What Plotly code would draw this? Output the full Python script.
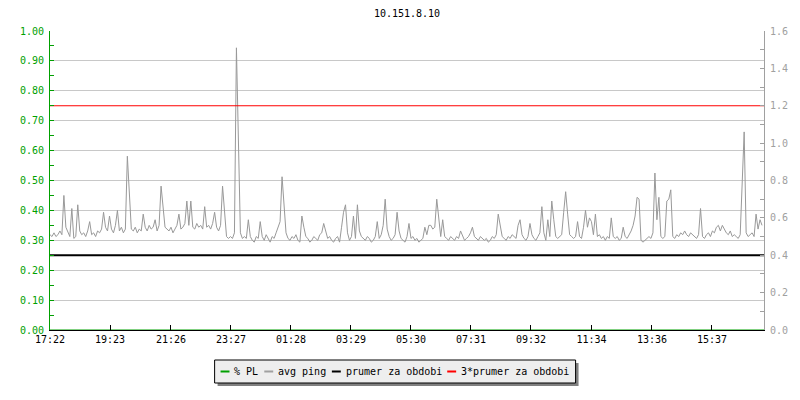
import datetime as dt
import plotly.graph_objects as go

# ---------------- data ----------------
title_text = "10.151.8.10"
start_time = "2024-05-13 17:22"
step_minutes = 4
span_minutes = 1440

# avg ping (right axis), one value every 4 minutes from 17:22
avg_ping = [
    0.51, 0.50, 0.52, 0.50, 0.51, 0.53, 0.51, 0.72, 0.55, 0.52,
    0.50, 0.65, 0.49, 0.50, 0.67, 0.53, 0.51, 0.52, 0.50, 0.53,
    0.58, 0.51, 0.52, 0.50, 0.53, 0.52, 0.54, 0.63, 0.55, 0.53,
    0.61, 0.54, 0.52, 0.56, 0.64, 0.53, 0.55, 0.52, 0.54, 0.93,
    0.72, 0.54, 0.53, 0.55, 0.52, 0.54, 0.53, 0.62, 0.55, 0.53,
    0.56, 0.54, 0.55, 0.59, 0.53, 0.56, 0.77, 0.66, 0.55, 0.54,
    0.53, 0.55, 0.52, 0.54, 0.56, 0.62, 0.54, 0.55, 0.57, 0.69,
    0.56, 0.69, 0.55, 0.54, 0.57, 0.55, 0.56, 0.54, 0.66, 0.55,
    0.56, 0.54, 0.57, 0.63, 0.55, 0.53, 0.56, 0.77, 0.63, 0.50,
    0.49, 0.50, 0.49, 0.52, 1.51, 0.93, 0.52, 0.49, 0.50, 0.49,
    0.59, 0.50, 0.48, 0.47, 0.50, 0.49, 0.58, 0.50, 0.48, 0.51,
    0.49, 0.47, 0.50, 0.49, 0.52, 0.55, 0.58, 0.82, 0.64, 0.52,
    0.49, 0.48, 0.50, 0.49, 0.51, 0.48, 0.47, 0.61, 0.55, 0.50,
    0.49, 0.47, 0.48, 0.50, 0.49, 0.48, 0.51, 0.52, 0.57, 0.53,
    0.49, 0.50, 0.48, 0.47, 0.49, 0.50, 0.47, 0.55, 0.63, 0.67,
    0.52, 0.48, 0.50, 0.61, 0.49, 0.67, 0.53, 0.50, 0.49, 0.48,
    0.50, 0.49, 0.47, 0.48, 0.50, 0.58, 0.49, 0.51, 0.56, 0.70,
    0.54, 0.50, 0.48, 0.49, 0.51, 0.63, 0.53, 0.49, 0.48, 0.47,
    0.50, 0.57, 0.49, 0.50, 0.48, 0.49, 0.47, 0.48, 0.49, 0.55,
    0.51, 0.56, 0.56, 0.54, 0.55, 0.70, 0.59, 0.50, 0.59, 0.50,
    0.49, 0.48, 0.50, 0.49, 0.48, 0.50, 0.49, 0.53, 0.50, 0.48,
    0.49, 0.50, 0.52, 0.55, 0.50, 0.49, 0.48, 0.50, 0.49, 0.48,
    0.49, 0.47, 0.48, 0.50, 0.49, 0.51, 0.62, 0.55, 0.50, 0.49,
    0.48, 0.50, 0.49, 0.51, 0.50, 0.49, 0.56, 0.59, 0.51, 0.49,
    0.48, 0.50, 0.57, 0.51, 0.49, 0.48, 0.50, 0.52, 0.66, 0.52,
    0.48, 0.59, 0.50, 0.69, 0.59, 0.50, 0.49, 0.50, 0.51, 0.63,
    0.74, 0.62, 0.51, 0.50, 0.49, 0.50, 0.58, 0.50, 0.49, 0.55,
    0.64, 0.55, 0.60, 0.58, 0.51, 0.62, 0.50, 0.51, 0.49, 0.50,
    0.48, 0.50, 0.49, 0.60, 0.50, 0.49, 0.50, 0.48, 0.49, 0.55,
    0.50, 0.49, 0.51, 0.53, 0.56, 0.61, 0.71, 0.70, 0.48, 0.47,
    0.48, 0.49, 0.50, 0.49, 0.52, 0.84, 0.59, 0.71, 0.50, 0.49,
    0.50, 0.69, 0.70, 0.75, 0.50, 0.49, 0.51, 0.50, 0.52, 0.51,
    0.53, 0.51, 0.50, 0.52, 0.51, 0.50, 0.49, 0.51, 0.65, 0.50,
    0.49, 0.51, 0.52, 0.50, 0.53, 0.52, 0.55, 0.56, 0.53, 0.56,
    0.54, 0.52, 0.51, 0.53, 0.50, 0.51, 0.50, 0.49, 0.51, 0.77,
    1.06, 0.52, 0.50, 0.51, 0.52, 0.50, 0.62, 0.54, 0.59, 0.56,
]
# % packet loss (left axis): no loss during the period
pl_times = [start_time, "2024-05-14 17:22"]
pl_percent = [0.0, 0.0]

prumer = 0.40          # period average (right axis)
prumer3 = 1.20         # 3 * period average (right axis)

tick_labels = ["17:22", "19:23", "21:26", "23:27", "01:28", "03:29",
               "05:30", "07:31", "09:32", "11:34", "13:36", "15:37"]
legend_labels = ["% PL", "avg ping", "prumer za obdobi", "3*prumer za obdobi"]
legend_colors = ["#00a000", "#a0a0a0", "#000000", "#ff0000"]

# ---------------- styling ----------------
FONT = "DejaVu Sans Mono"
GREEN = "#00a000"
GREY = "#a0a0a0"
GRID = "#c8c8c8"
W, H = 800, 400
ML, MR, MT, MB = 50, 30, 31, 70

t0 = dt.datetime.strptime(start_time, "%Y-%m-%d %H:%M")
t_end = t0 + dt.timedelta(minutes=span_minutes)
times = [t0 + dt.timedelta(minutes=step_minutes * i) for i in range(len(avg_ping))]

tick_vals = []
for lab in tick_labels:
    hh, mm = map(int, lab.split(":"))
    t = t0.replace(hour=hh, minute=mm)
    if t < t0:
        t += dt.timedelta(days=1)
    tick_vals.append(t)

fig = go.Figure()
fig.add_trace(go.Scatter(x=pl_times, y=pl_percent, mode="lines", yaxis="y",
                         line=dict(color=GREEN, width=1),
                         name=legend_labels[0], showlegend=False, hoverinfo="skip"))
fig.add_trace(go.Scatter(x=times, y=avg_ping, mode="lines", yaxis="y2",
                         line=dict(color="#999999", width=1),
                         name=legend_labels[1], showlegend=False,
                         hoverinfo="skip"))
fig.add_trace(go.Scatter(x=[t0, t_end], y=[prumer, prumer], mode="lines", yaxis="y2",
                         line=dict(color="#000000", width=2),
                         name=legend_labels[2], showlegend=False, hoverinfo="skip"))
fig.add_trace(go.Scatter(x=[t0, t_end], y=[prumer3, prumer3], mode="lines", yaxis="y2",
                         line=dict(color="#ff0000", width=1),
                         name=legend_labels[3], showlegend=False, hoverinfo="skip"))

# ---------------- custom legend (paper coords from pixels) ----------------
pw, ph = W - ML - MR, H - MT - MB
def px(x):
    return (x - ML) / pw
def py(y):
    return (H - MB - y) / ph

box_l, box_r, box_t, box_b = 216, 580, 360, 383
shapes = [
    dict(type="rect", xref="paper", yref="paper", x0=px(box_l + 3), x1=px(box_r + 3),
         y0=py(box_b + 3), y1=py(box_t + 3), fillcolor="#808080", line=dict(width=0),
         layer="above"),
    dict(type="rect", xref="paper", yref="paper", x0=px(box_l), x1=px(box_r),
         y0=py(box_b), y1=py(box_t), fillcolor="#eeeeee",
         line=dict(color="#000000", width=1), layer="above"),
]
annotations = []
cx = 222
ly = 371.5
for lab, col in zip(legend_labels, legend_colors):
    shapes.append(dict(type="line", xref="paper", yref="paper", x0=px(cx), x1=px(cx + 9),
                       y0=py(ly), y1=py(ly), line=dict(color=col, width=2), layer="above"))
    tx = cx + 13
    annotations.append(dict(xref="paper", yref="paper", x=px(tx), y=py(ly - 0.5),
                            xanchor="left", yanchor="middle", showarrow=False,
                            text=lab, font=dict(family=FONT, size=10, color="#000000"),
                            borderpad=0))
    cx = tx + len(lab) * 6.02 + 7

fig.update_layout(
    width=W, height=H,
    margin=dict(l=ML, r=MR, t=MT, b=MB),
    paper_bgcolor="#ffffff", plot_bgcolor="#ffffff",
    font=dict(family=FONT, size=10, color="#000000"),
    showlegend=False,
    title=dict(text=title_text, x=0.5, xref="paper", xanchor="center",
               y=1 - 13.5 / H, yref="container", yanchor="middle",
               font=dict(family=FONT, size=10, color="#000000")),
    xaxis=dict(type="date", range=[t0, t_end], tickvals=tick_vals, ticktext=tick_labels,
               ticks="inside", ticklen=5, tickcolor="#000000", showgrid=False,
               showline=True, linecolor="#000000", linewidth=1, zeroline=False,
               tickfont=dict(family=FONT, size=10, color="#000000"), fixedrange=True),
    yaxis=dict(range=[0, 1], dtick=0.1, tick0=0, tickformat=".2f",
               ticks="inside", ticklen=4, tickcolor=GREEN,
               minor=dict(dtick=0.05, ticks="inside", ticklen=4, tickcolor=GREEN, showgrid=False),
               showgrid=True, gridcolor=GRID, gridwidth=1, zeroline=False,
               showline=True, linecolor=GREEN, linewidth=1,
               tickfont=dict(family=FONT, size=10, color=GREEN), ticklabelstandoff=3,
               fixedrange=True),
    yaxis2=dict(range=[0, 1.6], dtick=0.2, tick0=0, tickformat=".1f", overlaying="y",
                side="right", ticks="inside", ticklen=4, tickcolor=GREY,
                minor=dict(dtick=0.1, ticks="inside", ticklen=4, tickcolor=GREY, showgrid=False),
                showgrid=False, zeroline=False, showline=True, linecolor=GREY, linewidth=1,
                tickfont=dict(family=FONT, size=10, color=GREY), ticklabelstandoff=3,
                fixedrange=True),
    shapes=shapes,
    annotations=annotations,
)

fig.write_html("out.html", config={"displayModeBar": False},
               post_script="document.body.style.margin='0';")
